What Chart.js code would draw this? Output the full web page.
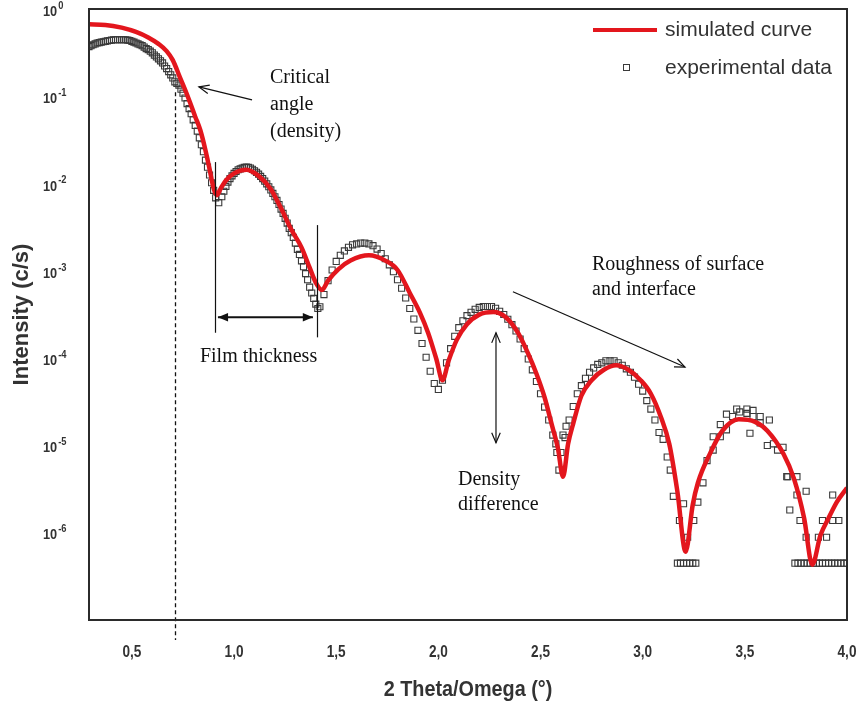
<!DOCTYPE html>
<html>
<head>
<meta charset="utf-8">
<title>XRR fit</title>
<script src="https://cdn.jsdelivr.net/npm/chart.js@4.4.1/dist/chart.umd.min.js"></script>
<style>
  html, body { margin: 0; padding: 0; background: #fff; }
</style>
</head>
<body>
<canvas id="xrr" width="860" height="711"></canvas>
<script>
// simulated reflectivity curve (red)
const simTheta = [0.29, 0.37, 0.45, 0.52, 0.58, 0.63, 0.67, 0.70, 0.735, 0.76, 0.785, 0.81, 0.835, 0.86, 0.88, 0.90, 0.915, 0.935, 0.96, 1.00,
  1.06, 1.12, 1.18, 1.23, 1.28, 1.33, 1.37, 1.40, 1.43, 1.46, 1.51, 1.57, 1.66, 1.74, 1.80, 1.86, 1.91, 1.95, 1.99, 2.02,
  2.05, 2.09, 2.14, 2.20, 2.27, 2.33, 2.39, 2.44, 2.48, 2.52, 2.555, 2.585, 2.61, 2.635, 2.66, 2.70, 2.75, 2.81, 2.87, 2.93,
  2.99, 3.04, 3.09, 3.13, 3.17, 3.21, 3.245, 3.27, 3.33, 3.39, 3.47, 3.55, 3.61, 3.69, 3.74, 3.79, 3.83, 3.87, 3.91, 3.95, 4.00];
const simIntensity = [0.72, 0.71, 0.66, 0.59, 0.51, 0.43, 0.355, 0.28, 0.178, 0.129, 0.091, 0.063, 0.044, 0.026, 0.0158, 0.0095, 0.0079, 0.0095, 0.0117, 0.0141,
  0.0155, 0.0132, 0.0093, 0.0056, 0.0032, 0.0020, 0.00117, 0.00079, 0.00065, 0.00083, 0.00112, 0.00141, 0.00162, 0.00141, 0.00110, 0.00060, 3.55e-4, 2.09e-4, 1.05e-4, 6.0e-5,
  1.0e-4, 1.74e-4, 2.63e-4, 3.39e-4, 3.63e-4, 3.16e-4, 2.09e-4, 1.20e-4, 7.1e-5, 3.8e-5, 1.86e-5, 1.0e-5, 4.7e-6, 1.12e-5, 1.91e-5, 3.98e-5, 6.0e-5, 7.9e-5, 8.9e-5, 7.9e-5,
  6.0e-5, 4.2e-5, 2.24e-5, 1.12e-5, 3.16e-6, 6.5e-7, 2.24e-6, 3.98e-6, 8.7e-6, 1.58e-5, 2.14e-5, 2.0e-5, 1.58e-5, 8.5e-6, 4.5e-6, 1.58e-6, 4.6e-7, 1.0e-6, 1.58e-6, 2.4e-6, 3.5e-6];

// measured points (open squares)
const expTheta = [0.29, 0.31, 0.33, 0.35, 0.37, 0.39, 0.41, 0.43, 0.45, 0.47, 0.49, 0.51, 0.53, 0.55, 0.57, 0.59, 0.61, 0.63, 0.65, 0.67,
  0.69, 0.71, 0.73, 0.75, 0.77, 0.79, 0.81, 0.83, 0.85, 0.87, 0.89, 0.91, 0.925, 0.94, 0.96, 0.98, 1.00, 1.02, 1.04, 1.06,
  1.08, 1.10, 1.12, 1.14, 1.16, 1.18, 1.20, 1.22, 1.24, 1.26, 1.28, 1.30, 1.32, 1.34, 1.36, 1.38, 1.40, 1.41, 1.42, 1.44,
  1.46, 1.48, 1.50, 1.52, 1.54, 1.56, 1.58, 1.60, 1.62, 1.64, 1.66, 1.68, 1.70, 1.72, 1.74, 1.76, 1.78, 1.80, 1.82, 1.84,
  1.86, 1.88, 1.90, 1.92, 1.94, 1.96, 1.98, 2.00, 2.02, 2.04, 2.06, 2.08, 2.10, 2.12, 2.14, 2.16, 2.18, 2.20, 2.22, 2.24,
  2.26, 2.28, 2.30, 2.32, 2.34, 2.36, 2.38, 2.40, 2.42, 2.44, 2.46, 2.48, 2.50, 2.52, 2.54, 2.56, 2.575, 2.58, 2.59, 2.60,
  2.61, 2.62, 2.625, 2.64, 2.66, 2.68, 2.70, 2.72, 2.74, 2.76, 2.78, 2.80, 2.82, 2.84, 2.86, 2.88, 2.90, 2.92, 2.94, 2.96,
  2.98, 3.00, 3.02, 3.04, 3.06, 3.08, 3.10, 3.12, 3.135, 3.15, 3.18, 3.20, 3.22, 3.17, 3.185, 3.20, 3.215, 3.23, 3.245, 3.26,
  3.25, 3.27, 3.295, 3.315, 3.345, 3.345, 3.38, 3.38, 3.41, 3.41, 3.44, 3.46, 3.475, 3.51, 3.51, 3.525, 3.54, 3.54, 3.575, 3.575,
  3.61, 3.62, 3.64, 3.66, 3.687, 3.705, 3.71, 3.72, 3.755, 3.755, 3.77, 3.80, 3.80, 3.745, 3.76, 3.775, 3.79, 3.805, 3.82, 3.835,
  3.85, 3.865, 3.88, 3.895, 3.91, 3.925, 3.94, 3.955, 3.97, 3.985, 4.00, 3.86, 3.88, 3.90, 3.93, 3.93, 3.96,
  0.30, 0.32, 0.34, 0.36, 0.38, 0.40, 0.42, 0.44, 0.46, 0.48, 0.50, 0.52, 0.54, 0.56, 0.58, 0.60, 0.62, 0.64, 0.66, 0.68,
  0.70, 0.72, 0.74, 0.76, 0.78, 0.80, 0.82, 0.84, 0.86, 0.88, 0.90, 0.95, 0.97, 0.99, 1.01, 1.03, 1.05, 1.07, 1.09, 1.11,
  1.13, 1.15, 1.17, 1.19, 1.21, 1.23, 1.25, 1.27, 1.29, 1.31, 1.33, 1.35, 1.37, 1.39];
const expIntensity = [0.40, 0.42, 0.44, 0.45, 0.46, 0.47, 0.48, 0.48, 0.48, 0.48, 0.47, 0.45, 0.43, 0.41, 0.38, 0.355, 0.32, 0.29, 0.26, 0.224,
  0.19, 0.158, 0.145, 0.117, 0.089, 0.068, 0.050, 0.036, 0.025, 0.0166, 0.011, 0.0074, 0.0065, 0.0076, 0.0100, 0.0123, 0.0141, 0.0155, 0.0162, 0.0166,
  0.0162, 0.0151, 0.0138, 0.0123, 0.0107, 0.0091, 0.0076, 0.0062, 0.0049, 0.0038, 0.00295, 0.00224, 0.00166, 0.0012, 0.00085, 0.0006, 4.47e-4, 3.98e-4, 4.17e-4, 5.75e-4,
  8.3e-4, 0.0011, 0.00138, 0.00162, 0.00182, 0.0020, 0.00214, 0.00219, 0.00224, 0.00224, 0.00219, 0.00209, 0.00191, 0.0017, 0.00148, 0.00126, 0.00105, 8.5e-4, 6.8e-4, 5.25e-4,
  3.98e-4, 3.02e-4, 2.24e-4, 1.58e-4, 1.1e-4, 7.6e-5, 5.5e-5, 4.7e-5, 6.0e-5, 9.5e-5, 1.38e-4, 1.91e-4, 2.4e-4, 2.88e-4, 3.3e-4, 3.6e-4, 3.9e-4, 4.1e-4, 4.2e-4, 4.2e-4,
  4.2e-4, 4.0e-4, 3.7e-4, 3.4e-4, 3.0e-4, 2.6e-4, 2.2e-4, 1.78e-4, 1.38e-4, 1.05e-4, 7.9e-5, 5.8e-5, 4.2e-5, 2.95e-5, 2.1e-5, 1.41e-5, 1.12e-5, 8.9e-6, 5.6e-6, 8.9e-6,
  1.41e-5, 1.32e-5, 1.78e-5, 2.1e-5, 3.0e-5, 4.2e-5, 5.2e-5, 6.3e-5, 7.4e-5, 8.3e-5, 9.1e-5, 9.5e-5, 1.0e-4, 1.0e-4, 1.0e-4, 9.5e-5, 8.9e-5, 8.1e-5, 7.4e-5, 6.5e-5,
  5.4e-5, 4.5e-5, 3.5e-5, 2.8e-5, 2.1e-5, 1.51e-5, 1.26e-5, 7.9e-6, 5.6e-6, 2.8e-6, 1.48e-6, 2.3e-6, 9.5e-7, 4.8e-7, 4.8e-7, 4.8e-7, 4.8e-7, 4.8e-7, 4.8e-7, 4.8e-7,
  1.48e-6, 2.4e-6, 4.0e-6, 7.2e-6, 9.5e-6, 1.35e-5, 1.35e-5, 1.86e-5, 1.62e-5, 2.45e-5, 2.3e-5, 2.8e-5, 2.6e-5, 2.5e-5, 2.8e-5, 1.48e-5, 2.3e-5, 2.7e-5, 1.95e-5, 2.3e-5,
  1.07e-5, 2.1e-5, 1.12e-5, 9.5e-6, 1.02e-5, 4.7e-6, 4.7e-6, 1.95e-6, 2.9e-6, 4.7e-6, 1.48e-6, 9.5e-7, 3.2e-6, 4.8e-7, 4.8e-7, 4.8e-7, 4.8e-7, 4.8e-7, 4.8e-7, 4.8e-7,
  4.8e-7, 4.8e-7, 4.8e-7, 4.8e-7, 4.8e-7, 4.8e-7, 4.8e-7, 4.8e-7, 4.8e-7, 4.8e-7, 4.8e-7, 9.5e-7, 1.48e-6, 9.5e-7, 1.48e-6, 2.9e-6, 1.48e-6,
  0.41, 0.43, 0.445, 0.455, 0.465, 0.475, 0.48, 0.48, 0.48, 0.475, 0.46, 0.44, 0.42, 0.395, 0.37, 0.34, 0.305, 0.275, 0.24, 0.207,
  0.175, 0.152, 0.13, 0.103, 0.078, 0.058, 0.043, 0.030, 0.020, 0.0135, 0.0090, 0.0088, 0.0112, 0.0132, 0.0148, 0.0159, 0.0165, 0.0165, 0.0157, 0.0145,
  0.013, 0.0115, 0.0099, 0.0083, 0.0069, 0.0055, 0.0043, 0.0033, 0.0026, 0.0019, 0.0014, 0.0010, 0.0007, 0.00052];

const xTickValues = [0.5, 1.0, 1.5, 2.0, 2.5, 3.0, 3.5, 4.0];
const yTickValues = [1e0, 1e-1, 1e-2, 1e-3, 1e-4, 1e-5, 1e-6];
const yTickExponents = ['0', '-1', '-2', '-3', '-4', '-5', '-6'];

const criticalAngle = 0.712;

// annotation text, anchored in data coordinates (left edge, middle of first line)
const notes = [
  { lines: ['Critical', 'angle', '(density)'], theta: 1.176, intensity: 0.175, lineGap: 27 },
  { lines: ['Film thickness'], theta: 0.833, intensity: 1.1e-4, lineGap: 25 },
  { lines: ['Roughness of surface', 'and interface'], theta: 2.752, intensity: 1.26e-3, lineGap: 25 },
  { lines: ['Density', 'difference'], theta: 2.096, intensity: 4.3e-6, lineGap: 25 }
];
const arrows = [
  { from: [1.088, 0.098], to: [0.828, 0.138], heads: 'end', filled: false },
  { from: [2.365, 6.2e-4], to: [3.207, 8.5e-5], heads: 'end', filled: false },
  { from: [2.282, 2.1e-4], to: [2.282, 1.15e-5], heads: 'both', filled: false },
  { from: [0.921, 3.16e-4], to: [1.386, 3.16e-4], heads: 'both', filled: true }
];
const markers = [
  { theta: 0.907, top: 0.019, bottom: 2.1e-4 },
  { theta: 1.406, top: 3.6e-3, bottom: 1.86e-4 }
];

const textColor = '#333';
const sans = '"Liberation Sans", Arial, sans-serif';
const serif = '"Liberation Serif", "Times New Roman", serif';

function squeezedText(ctx, text, x, y, font, align, sx) {
  ctx.save();
  ctx.font = font;
  ctx.translate(x, y);
  ctx.scale(sx, 1);
  ctx.textAlign = align;
  ctx.textBaseline = 'middle';
  ctx.fillText(text, 0, 0);
  ctx.restore();
}

function arrowHead(ctx, x1, y1, x2, y2, filled) {
  const ang = Math.atan2(y2 - y1, x2 - x1);
  const len = 11, spread = 0.4;
  ctx.beginPath();
  ctx.moveTo(x2 - len * Math.cos(ang - spread), y2 - len * Math.sin(ang - spread));
  ctx.lineTo(x2, y2);
  ctx.lineTo(x2 - len * Math.cos(ang + spread), y2 - len * Math.sin(ang + spread));
  if (filled) {
    ctx.closePath();
    ctx.fill();
  } else {
    ctx.stroke();
  }
}

const decorations = {
  id: 'decorations',
  beforeDatasetsDraw(chart) {
    const { ctx, chartArea, scales: { x, y } } = chart;
    // dashed critical angle line
    ctx.save();
    ctx.strokeStyle = '#111';
    ctx.lineWidth = 1.3;
    ctx.setLineDash([4, 3]);
    const cx = Math.round(x.getPixelForValue(criticalAngle)) + 0.5;
    ctx.beginPath();
    ctx.moveTo(cx, y.getPixelForValue(0.12));
    ctx.lineTo(cx, chartArea.bottom + 20);
    ctx.stroke();
    ctx.restore();
  },
  afterDraw(chart) {
    const { ctx, chartArea, scales: { x, y } } = chart;
    ctx.save();

    // frame
    ctx.strokeStyle = '#2b2b2b';
    ctx.lineWidth = 2;
    ctx.strokeRect(chartArea.left, chartArea.top, chartArea.right - chartArea.left, chartArea.bottom - chartArea.top);

    // tick labels
    ctx.fillStyle = textColor;
    xTickValues.forEach(v => {
      squeezedText(ctx, v.toFixed(1).replace('.', ','), x.getPixelForValue(v), 653, 'bold 16px ' + sans, 'center', 0.85);
    });
    yTickValues.forEach((v, i) => {
      const py = y.getPixelForValue(v);
      ctx.font = 'bold 15px ' + sans;
      const w = ctx.measureText('10').width * 0.85;
      squeezedText(ctx, '10', 43, py, 'bold 15px ' + sans, 'left', 0.85);
      squeezedText(ctx, yTickExponents[i], 43 + w + 1, py - 6, 'bold 11px ' + sans, 'left', 0.85);
    });

    // axis titles
    squeezedText(ctx, '2 Theta/Omega (°)', (chartArea.left + chartArea.right) / 2, 690, 'bold 22px ' + sans, 'center', 0.9);
    ctx.save();
    ctx.translate(22, (chartArea.top + chartArea.bottom) / 2);
    ctx.rotate(-Math.PI / 2);
    squeezedText(ctx, 'Intensity (c/s)', 0, 0, 'bold 22px ' + sans, 'center', 1);
    ctx.restore();

    // legend
    const sim = chart.data.datasets[0], exp = chart.data.datasets[1];
    ctx.strokeStyle = sim.borderColor;
    ctx.lineWidth = 4;
    ctx.beginPath();
    ctx.moveTo(593, 30);
    ctx.lineTo(657, 30);
    ctx.stroke();
    ctx.strokeStyle = exp.borderColor;
    ctx.lineWidth = 1;
    ctx.strokeRect(623.5, 64.5, 6, 6);
    ctx.fillStyle = textColor;
    ctx.font = '21px ' + sans;
    ctx.textAlign = 'left';
    ctx.textBaseline = 'middle';
    ctx.fillText(sim.label, 665, 30);
    ctx.fillText(exp.label, 665, 68);

    // annotations
    ctx.fillStyle = '#111';
    ctx.font = '20px ' + serif;
    notes.forEach(n => {
      const px = x.getPixelForValue(n.theta), py = y.getPixelForValue(n.intensity);
      n.lines.forEach((t, i) => ctx.fillText(t, px, py + i * n.lineGap));
    });
    ctx.strokeStyle = '#111';
    ctx.lineWidth = 1.2;
    markers.forEach(m => {
      const px = Math.round(x.getPixelForValue(m.theta)) + 0.5;
      ctx.beginPath();
      ctx.moveTo(px, y.getPixelForValue(m.top));
      ctx.lineTo(px, y.getPixelForValue(m.bottom));
      ctx.stroke();
    });
    arrows.forEach(a => {
      const x1 = x.getPixelForValue(a.from[0]), y1 = y.getPixelForValue(a.from[1]);
      const x2 = x.getPixelForValue(a.to[0]), y2 = y.getPixelForValue(a.to[1]);
      ctx.lineWidth = a.filled ? 2 : 1.2;
      ctx.beginPath();
      ctx.moveTo(x1, y1);
      ctx.lineTo(x2, y2);
      ctx.stroke();
      arrowHead(ctx, x1, y1, x2, y2, a.filled);
      if (a.heads === 'both') arrowHead(ctx, x2, y2, x1, y1, a.filled);
    });
    ctx.restore();
  }
};

new Chart(document.getElementById('xrr'), {
  type: 'scatter',
  data: {
    datasets: [
      {
        label: 'simulated curve',
        data: simTheta.map((t, i) => ({ x: t, y: simIntensity[i] })),
        showLine: true,
        borderColor: '#e3161d',
        borderWidth: 4.5,
        pointRadius: 0,
        cubicInterpolationMode: 'monotone'
      },
      {
        label: 'experimental data',
        data: expTheta.map((t, i) => ({ x: t, y: expIntensity[i] })),
        pointStyle: 'rect',
        pointRadius: 4.3,
        borderColor: '#3a3a3a',
        borderWidth: 1.1,
        backgroundColor: 'rgba(255,255,255,0)'
      }
    ]
  },
  options: {
    responsive: false,
    animation: false,
    devicePixelRatio: 1,
    layout: { padding: { top: 9, right: 13, left: 0, bottom: 0 } },
    plugins: { legend: { display: false }, tooltip: { enabled: false } },
    scales: {
      x: {
        type: 'linear',
        min: 0.29,
        max: 4.0,
        grid: { display: false, drawTicks: false },
        border: { display: false },
        ticks: { display: false },
        afterBuildTicks: s => { s.ticks = xTickValues.map(v => ({ value: v })); },
        afterFit: s => { s.height = 91; }
      },
      y: {
        type: 'logarithmic',
        min: 1.07e-7,
        max: 1.08,
        grid: { display: false, drawTicks: false },
        border: { display: false },
        ticks: { display: false },
        afterBuildTicks: s => { s.ticks = yTickValues.map(v => ({ value: v })); },
        afterFit: s => { s.width = 89; }
      }
    }
  },
  plugins: [decorations]
});
</script>
</body>
</html>
